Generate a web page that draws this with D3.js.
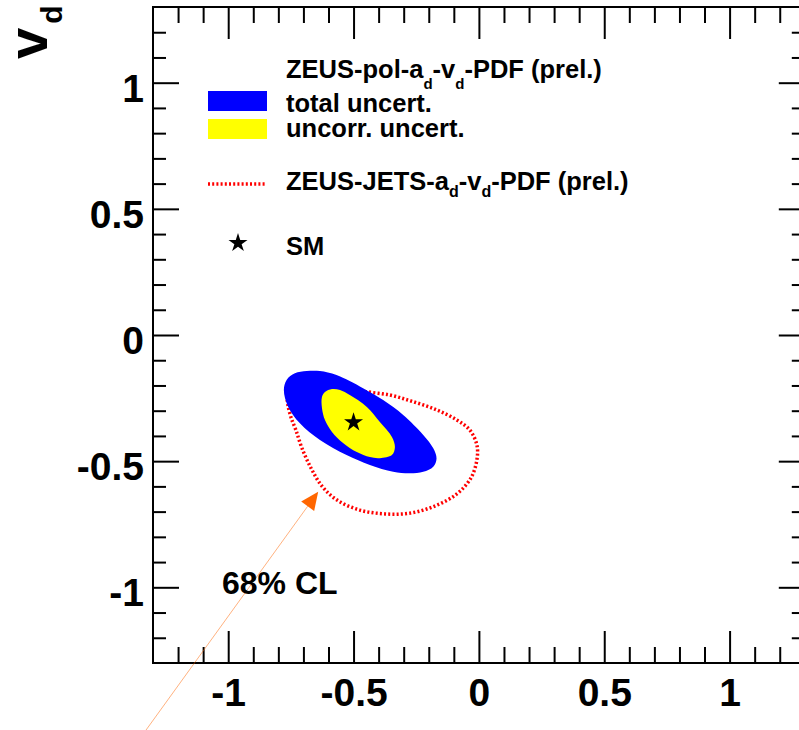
<!DOCTYPE html>
<html>
<head>
<meta charset="utf-8">
<script src="https://cdn.jsdelivr.net/npm/d3@7"></script>
<style>
  body { margin: 0; background: #fff; }
  svg { display: block; }
</style>
</head>
<body>
<div id="chart"></div>
<script>
// values, in (a_d, v_d)
const majorTicks = [-1, -0.5, 0, 0.5, 1]
const tickLabels = ['-1', '-0.5', '0', '0.5', '1']

// ZEUS-pol total uncertainty contour (blue)
const totalUncert = [
  [-0.778, -0.218], [-0.767, -0.178], [-0.734, -0.152], [-0.687, -0.143],
  [-0.634, -0.143], [-0.568, -0.159], [-0.462, -0.211], [-0.382, -0.258],
  [-0.302, -0.317], [-0.222, -0.396], [-0.182, -0.449], [-0.169, -0.489],
  [-0.182, -0.522], [-0.222, -0.542], [-0.275, -0.548], [-0.342, -0.542],
  [-0.435, -0.515], [-0.528, -0.476], [-0.634, -0.416], [-0.714, -0.350],
  [-0.761, -0.284]
]
// ZEUS-pol uncorrelated uncertainty contour (yellow)
const uncorrUncert = [
  [-0.626, -0.246], [-0.614, -0.226], [-0.586, -0.214], [-0.554, -0.218],
  [-0.515, -0.238], [-0.447, -0.285], [-0.395, -0.345], [-0.347, -0.404],
  [-0.335, -0.444], [-0.347, -0.476], [-0.395, -0.488], [-0.435, -0.484],
  [-0.487, -0.464], [-0.542, -0.428], [-0.586, -0.384], [-0.614, -0.337],
  [-0.626, -0.289]
]
// ZEUS-JETS contour (red dotted), part of it runs under the blue area
const jetsContour = [
  [-0.535, -0.202], [-0.463, -0.222], [-0.355, -0.238], [-0.263, -0.264],
  [-0.168, -0.297], [-0.088, -0.337], [-0.036, -0.377], [-0.008, -0.436],
  [-0.008, -0.495], [-0.032, -0.567], [-0.088, -0.630], [-0.176, -0.678],
  [-0.275, -0.706], [-0.375, -0.709], [-0.475, -0.694], [-0.566, -0.654],
  [-0.626, -0.599], [-0.670, -0.527], [-0.706, -0.448], [-0.730, -0.377],
  [-0.750, -0.325], [-0.762, -0.277], [-0.766, -0.242]
]
const smPoint = [-0.5, -0.346]
const arrowFrom = [-1.328, -1.566]
const arrowTo = [-0.641, -0.621]
const clLabel = { a: -1.025, v: -1.027, text: '68% CL' }

const font = "'Liberation Sans', Arial, Helvetica, sans-serif"
const width = 799, height = 730

const svg = d3.select('#chart')
  .append('svg')
  .attr('width', width)
  .attr('height', height)

const x = d3.scaleLinear().domain([-1.3, 1.3]).range([153, 804.8])
const y = d3.scaleLinear().domain([-1.3, 1.3]).range([663, 7])

const minorTicks = d3.range(-12, 13).map(i => i / 10).filter(d => !majorTicks.includes(d))

// contours
const line = d3.line().x(d => x(d[0])).y(d => y(d[1]))

svg.append('path')
  .datum(jetsContour)
  .attr('d', line.curve(d3.curveCatmullRom))
  .attr('fill', 'none')
  .attr('stroke', '#ff0000')
  .attr('stroke-width', 3.5)
  .attr('stroke-dasharray', '2,2.2')

svg.append('path')
  .datum(totalUncert)
  .attr('d', line.curve(d3.curveCatmullRomClosed))
  .attr('fill', '#0000ff')

svg.append('path')
  .datum(uncorrUncert)
  .attr('d', line.curve(d3.curveCatmullRomClosed))
  .attr('fill', '#ffff00')

const star = d3.symbol(d3.symbolStar).size(112)
svg.append('path')
  .attr('d', star)
  .attr('transform', `translate(${x(smPoint[0])}, ${y(smPoint[1])})`)
  .attr('fill', '#000')

// axes: ticks on all four sides, labels on left and bottom
function styleTicks(g) {
  g.select('.domain').remove()
  g.selectAll('.tick line').attr('stroke', '#000').attr('stroke-width', 2)
}

svg.append('g')
  .attr('transform', `translate(0, ${y(-1.3)})`)
  .call(d3.axisBottom(x).tickValues(minorTicks).tickSize(-16).tickSizeOuter(0).tickFormat(''))
  .call(styleTicks)
svg.append('g')
  .attr('transform', `translate(0, ${y(-1.3)})`)
  .call(d3.axisBottom(x).tickValues(majorTicks).tickSize(-32).tickSizeOuter(0)
    .tickFormat((d, i) => tickLabels[i]))
  .call(styleTicks)
  .call(g => g.selectAll('text')
    .attr('y', 43).attr('dy', null)
    .attr('fill', '#000')
    .style('font', `bold 39px ${font}`))

svg.append('g')
  .attr('transform', `translate(0, ${y(1.3)})`)
  .call(d3.axisTop(x).tickValues(minorTicks).tickSize(-16).tickSizeOuter(0).tickFormat(''))
  .call(styleTicks)
svg.append('g')
  .attr('transform', `translate(0, ${y(1.3)})`)
  .call(d3.axisTop(x).tickValues(majorTicks).tickSize(-32).tickSizeOuter(0).tickFormat(''))
  .call(styleTicks)

svg.append('g')
  .attr('transform', `translate(${x(-1.3)}, 0)`)
  .call(d3.axisLeft(y).tickValues(minorTicks).tickSize(-13).tickSizeOuter(0).tickFormat(''))
  .call(styleTicks)
svg.append('g')
  .attr('transform', `translate(${x(-1.3)}, 0)`)
  .call(d3.axisLeft(y).tickValues(majorTicks).tickSize(-26).tickSizeOuter(0)
    .tickFormat((d, i) => tickLabels[i]))
  .call(styleTicks)
  .call(g => g.selectAll('text')
    .attr('x', -9).attr('y', 18.5).attr('dy', null)
    .attr('fill', '#000')
    .style('font', `bold 39px ${font}`))

svg.append('g')
  .attr('transform', `translate(${x(1.3)}, 0)`)
  .call(d3.axisRight(y).tickValues(minorTicks).tickSize(-13).tickSizeOuter(0).tickFormat(''))
  .call(styleTicks)
svg.append('g')
  .attr('transform', `translate(${x(1.3)}, 0)`)
  .call(d3.axisRight(y).tickValues(majorTicks).tickSize(-26).tickSizeOuter(0).tickFormat(''))
  .call(styleTicks)

// frame
svg.append('rect')
  .attr('x', x(-1.3))
  .attr('y', y(1.3))
  .attr('width', x(1.3) - x(-1.3))
  .attr('height', y(-1.3) - y(1.3))
  .attr('fill', 'none')
  .attr('stroke', '#000')
  .attr('stroke-width', 2)

// y title  v_d
const yTitle = svg.append('text')
  .attr('transform', 'translate(47, 59) rotate(-90)')
  .style('font', `bold 56px ${font}`)
  .attr('fill', '#000')
yTitle.append('tspan').text('v')
yTitle.append('tspan').attr('dx', 4).attr('dy', 15).style('font-size', '30px').text('d')

// arrow to the 68% CL contour
const x0 = x(arrowFrom[0]), y0 = y(arrowFrom[1])
const x1 = x(arrowTo[0]), y1 = y(arrowTo[1])
const len = Math.hypot(x1 - x0, y1 - y0)
const ux = (x1 - x0) / len, uy = (y1 - y0) / len
const headLen = 18, headHalf = 8
const bx = x1 - ux * headLen, by = y1 - uy * headLen

svg.append('line')
  .attr('x1', x0).attr('y1', y0)
  .attr('x2', bx).attr('y2', by)
  .attr('stroke', '#ff6600')
  .attr('stroke-width', 1)
  .attr('stroke-opacity', 0.5)

svg.append('path')
  .attr('d', `M${x1},${y1}L${bx - uy * headHalf},${by + ux * headHalf}L${bx + uy * headHalf},${by - ux * headHalf}Z`)
  .attr('fill', '#ff6600')

svg.append('text')
  .attr('x', x(clLabel.a))
  .attr('y', y(clLabel.v))
  .style('font', `bold 32px ${font}`)
  .attr('fill', '#000')
  .text(clLabel.text)

// legend
const legend = svg.append('g').style('font', `bold 25.5px ${font}`).attr('fill', '#000')

function subText(yPos, parts, drop, subSize) {
  const t = legend.append('text').attr('x', 286).attr('y', yPos)
  parts.forEach(p => {
    if (p.sub) {
      t.append('tspan').attr('dy', drop).style('font-size', subSize + 'px').text(p.sub)
    } else {
      t.append('tspan').attr('dy', p.first ? 0 : -drop).text(p.txt)
    }
  })
}

subText(78, [{ txt: 'ZEUS-pol-a', first: true }, { sub: 'd' }, { txt: '-v' }, { sub: 'd' }, { txt: '-PDF (prel.)' }], 11, 15)

legend.append('rect').attr('x', 208).attr('y', 91).attr('width', 59).attr('height', 20).attr('fill', '#0000ff')
legend.append('text').attr('x', 286).attr('y', 111.5).text('total uncert.')

legend.append('rect').attr('x', 208).attr('y', 119).attr('width', 59).attr('height', 20).attr('fill', '#ffff00')
legend.append('text').attr('x', 286).attr('y', 136.5).text('uncorr. uncert.')

legend.append('line')
  .attr('x1', 208).attr('x2', 266)
  .attr('y1', 184).attr('y2', 184)
  .attr('stroke', '#ff0000')
  .attr('stroke-width', 3.5)
  .attr('stroke-dasharray', '2,2.2')
subText(190, [{ txt: 'ZEUS-JETS-a', first: true }, { sub: 'd' }, { txt: '-v' }, { sub: 'd' }, { txt: '-PDF (prel.)' }], 7, 16)

legend.append('path')
  .attr('d', star)
  .attr('transform', 'translate(238, 243)')
  .attr('fill', '#000')
legend.append('text').attr('x', 286).attr('y', 255).text('SM')
</script>
</body>
</html>
